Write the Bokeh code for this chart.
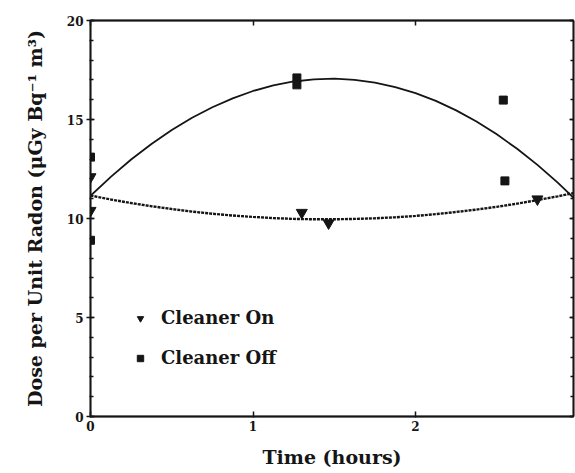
from bokeh.plotting import figure
from bokeh.models import (Range1d, LinearAxis, FixedTicker, SingleIntervalTicker,
                          Legend, LegendItem)
from bokeh.embed import file_html
from bokeh.resources import INLINE

# ---- data ----
on_x = [0.0, 0.0, 1.30, 1.465, 2.75]
on_y = [12.1, 10.4, 10.3, 9.77, 10.98]

off_x = [0.0, 0.0, 1.27, 1.27, 2.54, 2.55]
off_y = [13.1, 8.9, 17.1, 16.75, 15.98, 11.9]

# fitted curves
fit_x = [0.0, 0.125, 0.25, 0.375, 0.5, 0.625, 0.75, 0.875, 1.0, 1.125, 1.25,
         1.375, 1.5, 1.625, 1.75, 1.875, 2.0, 2.125, 2.25, 2.375, 2.5, 2.625,
         2.75, 2.875, 3.0]
fit_off_y = [11.15, 12.10, 12.98, 13.76, 14.47, 15.09, 15.62, 16.07, 16.44,
             16.72, 16.92, 17.03, 17.06, 17.00, 16.86, 16.64, 16.33, 15.94,
             15.46, 14.90, 14.25, 13.52, 12.71, 11.81, 10.82]
fit_on_y = [11.16, 10.96, 10.78, 10.62, 10.48, 10.35, 10.24, 10.15, 10.08,
            10.02, 9.98, 9.96, 9.96, 9.98, 10.01, 10.06, 10.13, 10.22, 10.33,
            10.45, 10.59, 10.75, 10.93, 11.12, 11.33]

x_ticks = [0, 1, 2, 3]
y_ticks = [0, 5, 10, 15, 20]
labels = ["Cleaner On", "Cleaner Off"]
x_title = "Time (hours)"
y_title = "Dose per Unit Radon (\u03bcGy Bq\u207b\u00b9 m\u00b3)"

FONT = "DejaVu Serif"
INK = "#151515"

p = figure(width=575, height=473, output_backend="svg", toolbar_location=None,
           x_range=Range1d(0, 2.972), y_range=Range1d(0, 20),
           min_border_left=90, min_border_right=2, min_border_top=20,
           min_border_bottom=57, x_axis_location=None, y_axis_location=None)
p.grid.visible = False
p.outline_line_color = INK
p.outline_line_width = 1.5
p.background_fill_color = "white"
p.border_fill_color = "white"

# curves
p.line(fit_x, fit_off_y, line_color=INK, line_width=1.8)
p.line(fit_x, fit_on_y, line_color=INK, line_width=2.4, line_dash="3 1")

# points
r_on = p.scatter(on_x, on_y, marker="inverted_triangle", size=11,
                 fill_color=INK, line_color=INK)
r_off = p.scatter(off_x, off_y, marker="square", size=8,
                  fill_color=INK, line_color=INK)

def style_axis(ax):
    ax.axis_line_color = INK
    ax.axis_line_width = 1.8
    ax.major_tick_line_color = INK
    ax.minor_tick_line_color = INK
    ax.major_tick_line_width = 1.5
    ax.minor_tick_line_width = 1.5
    ax.major_label_text_font = FONT
    ax.major_label_text_font_style = "bold"
    ax.major_label_text_font_size = "12px"
    ax.major_label_text_color = INK
    ax.axis_label_text_font = FONT
    ax.axis_label_text_font_style = "bold"
    ax.axis_label_text_font_size = "19px"
    ax.axis_label_text_color = INK

# bottom
xb = LinearAxis(ticker=FixedTicker(ticks=x_ticks), axis_label=x_title)
style_axis(xb)
xb.major_tick_in = 5
xb.major_tick_out = 1
xb.major_label_standoff = 3
xb.axis_label_standoff = 12
p.add_layout(xb, "below")

# top
xt = LinearAxis(ticker=FixedTicker(ticks=x_ticks))
style_axis(xt)
xt.major_tick_in = 5
xt.major_tick_out = 0
xt.major_label_text_alpha = 0
xt.major_label_text_font_size = "1px"
xt.major_label_standoff = 0
p.add_layout(xt, "above")

# left
yl = LinearAxis(ticker=SingleIntervalTicker(interval=5, num_minor_ticks=5),
                axis_label=y_title)
style_axis(yl)
yl.major_tick_in = 4
yl.major_tick_out = 4
yl.minor_tick_in = 3
yl.minor_tick_out = 1
yl.major_label_standoff = 3
yl.axis_label_standoff = 18
p.add_layout(yl, "left")

# right
yr = LinearAxis(ticker=SingleIntervalTicker(interval=5, num_minor_ticks=5))
style_axis(yr)
yr.major_tick_in = 4
yr.major_tick_out = 0
yr.minor_tick_in = 3
yr.minor_tick_out = 0
yr.major_label_text_alpha = 0
yr.major_label_text_font_size = "1px"
yr.major_label_standoff = 0
p.add_layout(yr, "right")

legend = Legend(items=[LegendItem(label=labels[0], renderers=[r_on]),
                       LegendItem(label=labels[1], renderers=[r_off])],
                location=(42, 48), orientation="vertical",
                border_line_color=None, background_fill_alpha=0,
                padding=0, margin=0, spacing=19,
                glyph_width=16, glyph_height=20, label_height=20,
                label_standoff=13,
                label_text_font=FONT, label_text_font_style="bold",
                label_text_font_size="18px", label_text_color=INK)
p.add_layout(legend, "center")

open("out.html", "w").write(file_html(p, INLINE))
